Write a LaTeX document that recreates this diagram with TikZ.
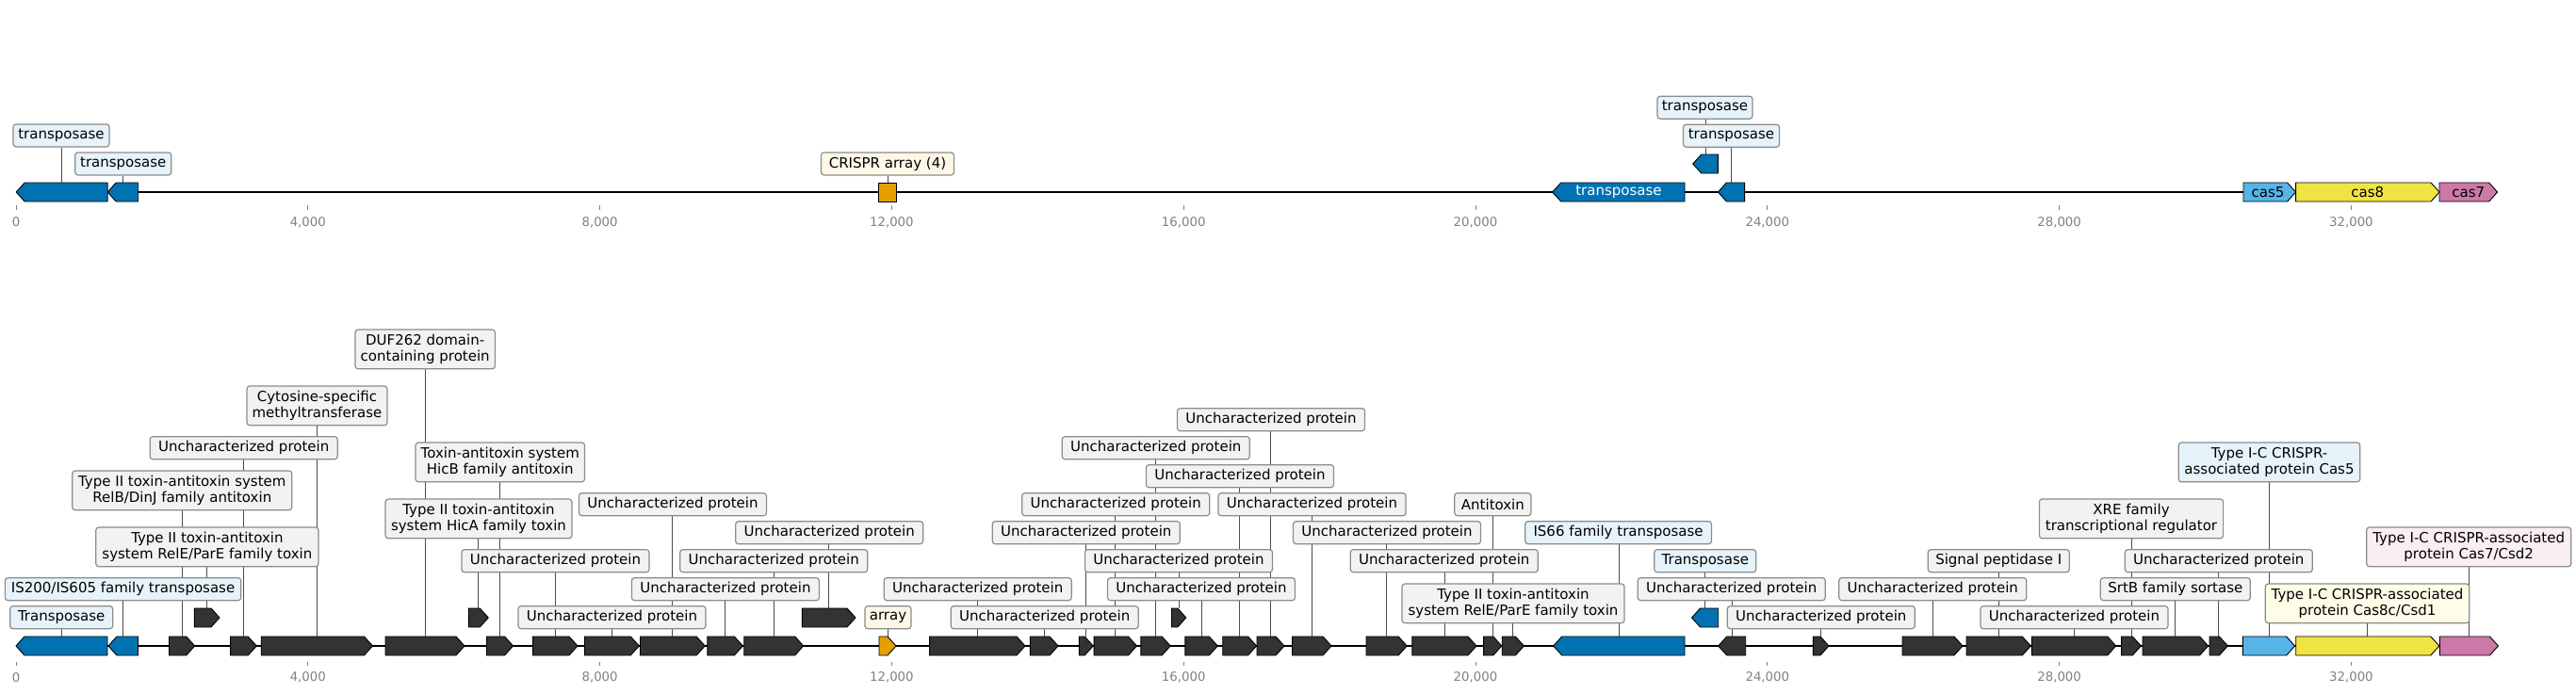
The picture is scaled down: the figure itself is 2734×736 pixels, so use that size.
\documentclass[tikz,border=0pt]{standalone}
\usepackage{fontspec}
\setmainfont{DejaVu Sans}
\usetikzlibrary{backgrounds}
\definecolor{gblue}{HTML}{0072B2}
\definecolor{gdark}{HTML}{333333}
\definecolor{gorange}{HTML}{E69F00}
\definecolor{gsky}{HTML}{56B4E9}
\definecolor{gyellow}{HTML}{F0E442}
\definecolor{gpink}{HTML}{CC79A7}
\definecolor{lblue}{HTML}{E6F3FA}
\definecolor{lgray}{HTML}{F2F2F2}
\definecolor{lcream}{HTML}{FEF7E6}
\definecolor{lyellow}{HTML}{FDFDE8}
\definecolor{lpink}{HTML}{F9EEF4}
\definecolor{tickgray}{HTML}{808080}
\newcommand{\labfont}{\fontsize{15bp}{17.7bp}\selectfont}
\newcommand{\tickfont}{\fontsize{13.3bp}{16bp}\selectfont}
\tikzset{
  backbone/.style={draw=black, line width=2.4bp},
  genestyle/.style={draw=black, line width=0.9bp, line join=miter},
  leader/.style={draw=black!70, line width=0.8bp},
  lab/.style={draw=black!45, line width=1.2bp, rounded corners=3bp, fill=lgray,
    inner xsep=1bp, inner ysep=0bp, minimum height=24bp, align=center, font=\labfont},
  lab2/.style={lab, minimum height=41.7bp},
  unc/.style={lab, minimum width=199bp},
  gtext/.style={font=\labfont, inner sep=0bp},
  tickmark/.style={draw=tickgray, line width=0.9bp},
  ticklab/.style={font=\tickfont, text=tickgray, inner sep=0bp}
}
% forward gene: name, x1, x2, ycenter, colour
\newcommand{\fgene}[5]{%
  \pgfmathsetmacro{\gh}{max(#2,#3-9)}%
  \filldraw[genestyle, fill=#5] (#2,#4-10) -- (\gh,#4-10) -- (#3,#4) -- (\gh,#4+10) -- (#2,#4+10) -- cycle;%
  \coordinate (#1) at ({(#2+#3)/2},#4-10);%
}
% reverse gene: name, x1, x2, ycenter, colour
\newcommand{\rgene}[5]{%
  \pgfmathsetmacro{\gh}{min(#3,#2+9)}%
  \filldraw[genestyle, fill=#5] (#3,#4-10) -- (\gh,#4-10) -- (#2,#4) -- (\gh,#4+10) -- (#3,#4+10) -- cycle;%
  \coordinate (#1) at ({(#2+#3)/2},#4-10);%
}
\begin{document}
\begin{tikzpicture}[x=1bp,y=-1bp]
\useasboundingbox (0,0) rectangle (2734,736);

% ================= TOP TRACK =================
\draw[backbone] (17,204) -- (2651,204);
\foreach \xx/\tl [count=\i] in {17/0,326.8/{4,000},636.6/{8,000},946.4/{12,000},1256.2/{16,000},1566/{20,000},1875.8/{24,000},2185.6/{28,000},2495.4/{32,000}}{
  \draw[tickmark] (\xx,218) -- (\xx,223);
  \node[ticklab] (tt\i) at (\xx,236) {\tl};
}
\rgene{t1}{17.2}{114.2}{204}{gblue}
\rgene{t2}{114.2}{146.7}{204}{gblue}
\filldraw[genestyle, fill=gorange] (932.4,194) rectangle (951.5,214);
\coordinate (t3) at (942,194);
\rgene{t4}{1647.7}{1788}{204}{gblue}
\rgene{t5}{1796.7}{1823.4}{174}{gblue}
\rgene{t6}{1823.4}{1851.6}{204}{gblue}
\fgene{t7}{2381}{2436.6}{204}{gsky}
\fgene{t8}{2436.6}{2589}{204}{gyellow}
\fgene{t9}{2589}{2650.6}{204}{gpink}
\node[gtext, text=white] (t4t) at (1718,204) {transposase};
\node[gtext] (t7t) at (2407,204) {cas5};
\node[gtext] (t8t) at (2512.8,204) {cas8};
\node[gtext] (t9t) at (2619.8,204) {cas7};

\node[lab, fill=lblue, minimum width=102bp] (T1) at (65,143.9) {transposase};
\node[lab, fill=lblue, minimum width=102bp] (T2) at (130.8,173.9) {transposase};
\node[lab, fill=lcream, minimum width=141bp] (T3) at (942,173.9) {CRISPR array (4)};
\node[lab, fill=lblue, minimum width=101bp] (T4) at (1809.5,114.2) {transposase};
\node[lab, fill=lblue, minimum width=102bp] (T5) at (1837.5,144.2) {transposase};

% ================= BOTTOM TRACK =================
\draw[backbone] (17,686) -- (2651,686);
\foreach \xx/\tl [count=\i] in {17/0,326.8/{4,000},636.6/{8,000},946.4/{12,000},1256.2/{16,000},1566/{20,000},1875.8/{24,000},2185.6/{28,000},2495.4/{32,000}}{
  \draw[tickmark] (\xx,702.5) -- (\xx,707);
  \node[ticklab] (bt\i) at (\xx,719.3) {\tl};
}
\rgene{g1}{17}{114}{686}{gblue}
\rgene{g2}{115}{146.5}{686}{gblue}
\fgene{g3}{179.5}{206.7}{686}{gdark}
\fgene{g4}{206.3}{233}{656}{gdark}
\fgene{g5}{244.6}{272.3}{686}{gdark}
\fgene{g6}{277.2}{395.5}{686}{gdark}
\fgene{g7}{409}{493}{686}{gdark}
\fgene{g8}{497.3}{518.3}{656}{gdark}
\fgene{g9}{516.5}{544.6}{686}{gdark}
\fgene{g10}{565.6}{613}{686}{gdark}
\fgene{g11}{620.5}{678.3}{686}{gdark}
\fgene{g12}{679.5}{748.2}{686}{gdark}
\fgene{g13}{750.9}{788.4}{686}{gdark}
\fgene{g14}{789.7}{852.7}{686}{gdark}
\fgene{g15}{851.3}{908}{656}{gdark}
\fgene{ga}{933}{951}{686}{gorange}
\fgene{g16}{986.6}{1088}{686}{gdark}
\fgene{g17}{1093.3}{1123}{686}{gdark}
\fgene{g18}{1145.4}{1160.2}{686}{gdark}
\fgene{g19}{1161.1}{1206.5}{686}{gdark}
\fgene{g20}{1210.9}{1242.2}{686}{gdark}
\fgene{g21}{1243.5}{1258.8}{656}{gdark}
\fgene{g22}{1257.8}{1292.3}{686}{gdark}
\fgene{g23}{1297.7}{1333.6}{686}{gdark}
\fgene{g24}{1334}{1363}{686}{gdark}
\fgene{g25}{1371.6}{1413}{686}{gdark}
\fgene{g26}{1450}{1493.2}{686}{gdark}
\fgene{g27}{1498.8}{1567}{686}{gdark}
\fgene{g28}{1574.6}{1593.8}{686}{gdark}
\fgene{g29}{1594.2}{1617.4}{686}{gdark}
\rgene{g30}{1648.7}{1788}{686}{gblue}
\rgene{g31}{1795.5}{1823.7}{656}{gblue}
\rgene{g32}{1823.7}{1852.7}{686}{gdark}
\fgene{g33}{1924.3}{1941}{686}{gdark}
\fgene{g34}{2019}{2083}{686}{gdark}
\fgene{g35}{2087}{2155.3}{686}{gdark}
\fgene{g36}{2156.4}{2245.7}{686}{gdark}
\fgene{g37}{2251.6}{2272.3}{686}{gdark}
\fgene{g38}{2274}{2343.6}{686}{gdark}
\fgene{g39}{2345}{2364.4}{686}{gdark}
\fgene{g40}{2380.3}{2435.6}{686}{gsky}
\fgene{g41}{2436.7}{2588.8}{686}{gyellow}
\fgene{g42}{2589.4}{2651.4}{686}{gpink}

% bottom labels
\node[lab, fill=lblue, minimum width=109bp] (L1) at (65.2,655.7) {Transposase};
\node[lab, fill=lblue, minimum width=250.4bp] (L2) at (130.6,625.7) {IS200/IS605 family transposase};
\node[lab2, minimum width=233bp] (L4) at (193.3,520.9) {Type II toxin-antitoxin system\\RelB/DinJ family antitoxin};
\node[lab2, minimum width=236.2bp] (L3) at (219.9,580.9) {Type II toxin-antitoxin\\system RelE/ParE family toxin};
\node[unc] (L5) at (258.7,475.7) {Uncharacterized protein};
\node[lab2, minimum width=149bp] (L6) at (336.5,430.9) {Cytosine-specific\\methyltransferase};
\node[lab2, minimum width=148.4bp] (L7) at (451.2,370.9) {DUF262 domain-\\containing protein};
\node[lab2, minimum width=179.5bp] (L8) at (530.8,490.9) {Toxin-antitoxin system\\HicB family antitoxin};
\node[lab2, minimum width=198bp] (L9) at (508,550.9) {Type II toxin-antitoxin\\system HicA family toxin};
\node[unc] (L10) at (589.5,595.7) {Uncharacterized protein};
\node[unc] (L11) at (649.5,655.7) {Uncharacterized protein};
\node[unc] (L12) at (714,535.7) {Uncharacterized protein};
\node[unc] (L13) at (769.9,625.7) {Uncharacterized protein};
\node[unc] (L14) at (821.2,595.7) {Uncharacterized protein};
\node[unc] (L15) at (880.2,565.7) {Uncharacterized protein};
\node[lab, fill=lcream, minimum width=49bp] (La) at (942.5,655.7) {array};
\node[unc] (L16) at (1037.7,625.7) {Uncharacterized protein};
\node[unc] (L17) at (1108.7,655.7) {Uncharacterized protein};
\node[unc] (L24) at (1349,445.7) {Uncharacterized protein};
\node[unc] (L20) at (1226.8,475.7) {Uncharacterized protein};
\node[unc] (L23) at (1316,505.7) {Uncharacterized protein};
\node[unc] (L19) at (1184.2,535.7) {Uncharacterized protein};
\node[unc] (L25) at (1392.5,535.7) {Uncharacterized protein};
\node[unc] (L18) at (1152.8,565.7) {Uncharacterized protein};
\node[unc] (L26) at (1472,565.7) {Uncharacterized protein};
\node[unc] (L21) at (1251,595.7) {Uncharacterized protein};
\node[unc] (L27) at (1532.8,595.7) {Uncharacterized protein};
\node[unc] (L22) at (1275,625.7) {Uncharacterized protein};
\node[lab, minimum width=81.2bp] (L28) at (1584.4,535.7) {Antitoxin};
\node[lab2, minimum width=236bp] (L29) at (1606,640.9) {Type II toxin-antitoxin\\system RelE/ParE family toxin};
\node[lab, fill=lblue, minimum width=197.7bp] (L30) at (1717.6,565.7) {IS66 family transposase};
\node[lab, fill=lblue, minimum width=108bp] (L31) at (1809.8,595.7) {Transposase};
\node[unc] (L32) at (1837.7,625.7) {Uncharacterized protein};
\node[unc] (L33) at (1932.8,655.7) {Uncharacterized protein};
\node[unc] (L34) at (2051.3,625.7) {Uncharacterized protein};
\node[lab, minimum width=150bp] (L35) at (2121.3,595.7) {Signal peptidase I};
\node[unc] (L36) at (2201.5,655.7) {Uncharacterized protein};
\node[lab2, minimum width=195.2bp] (L37) at (2262,550.9) {XRE family\\transcriptional regulator};
\node[lab, minimum width=159bp] (L38) at (2308.8,625.7) {SrtB family sortase};
\node[unc] (L39) at (2354.8,595.7) {Uncharacterized protein};
\node[lab2, fill=lblue, minimum width=192.6bp] (L40) at (2408.5,490.9) {Type I-C CRISPR-\\associated protein Cas5};
\node[lab2, fill=lpink, minimum width=217bp] (L42) at (2620.2,580.9) {Type I-C CRISPR-associated\\protein Cas7/Csd2};
\node[lab2, fill=lyellow, minimum width=216.4bp] (L41) at (2512.5,640.9) {Type I-C CRISPR-associated\\protein Cas8c/Csd1};

% leaders, behind every box
\begin{pgfonlayer}{background}
\foreach \g/\l in {t1/T1,t2/T2,t3/T3,t5/T4,t6/T5,
  g1/L1,g2/L2,g3/L4,g4/L3,g5/L5,g6/L6,g7/L7,g8/L9,g9/L8,g10/L10,g11/L11,g12/L12,g13/L13,
  g14/L14,g15/L15,ga/La,g16/L16,g17/L17,g18/L18,g19/L19,g20/L20,g21/L21,g22/L22,g23/L23,
  g24/L24,g25/L25,g26/L26,g27/L27,g28/L28,g29/L29,g30/L30,g31/L31,g32/L32,g33/L33,g34/L34,
  g35/L35,g36/L36,g37/L37,g38/L38,g39/L39,g40/L40,g41/L41,g42/L42}{
  \draw[leader] (\g) -- (\g |- \l.south);
}
\end{pgfonlayer}
\end{tikzpicture}
\end{document}
